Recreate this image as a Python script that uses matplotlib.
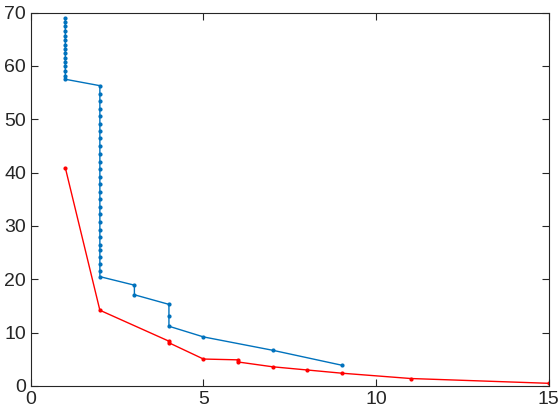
import matplotlib.pyplot as plt
import numpy as np

plt.rcParams['font.family'] = ['Liberation Sans', 'DejaVu Sans']

# blue series
blue_x = [1] * 15 + [2] * 27 + [3, 3, 4, 4, 4, 5, 7, 9]
blue_y = [69.0, 68.2, 67.4, 66.5, 65.7, 64.9, 64.0, 63.2, 62.4, 61.5, 60.7, 59.9, 59.0, 58.2, 57.5,
          56.3, 54.8, 53.4, 52.0, 50.6, 49.2, 47.8, 46.4, 44.9, 43.4, 42.0, 40.6, 39.1, 37.8,
          36.3, 35.0, 33.5, 32.2, 30.7, 29.3, 27.9, 26.5, 25.5, 24.2, 22.9, 21.6, 20.5,
          18.9, 17.1, 15.3, 13.2, 11.2, 9.2, 6.7, 3.9]

# red series
red_x = [1, 2, 4, 4, 5, 6, 6, 7, 8, 9, 11, 15]
red_y = [40.9, 14.2, 8.4, 8.1, 5.05, 4.9, 4.5, 3.6, 3.0, 2.4, 1.4, 0.5]

fig = plt.figure(figsize=(5.6, 4.2), dpi=100)
ax = fig.add_axes([0.055, 0.081, 0.925, 0.889])

ax.plot(blue_x, blue_y, color='#0072BD', marker='.', markersize=4, linewidth=1)
ax.plot(red_x, red_y, color='red', marker='.', markersize=4, linewidth=1)

ax.set_xlim(0, 15)
ax.set_ylim(0, 70)
ax.set_xticks([0, 5, 10, 15])
ax.set_yticks(np.arange(0, 71, 10))
ax.tick_params(direction='in', labelsize=14, colors='#262626', length=5,
               top=True, right=True)
for s in ax.spines.values():
    s.set_color('#262626')

plt.savefig('out.png')
